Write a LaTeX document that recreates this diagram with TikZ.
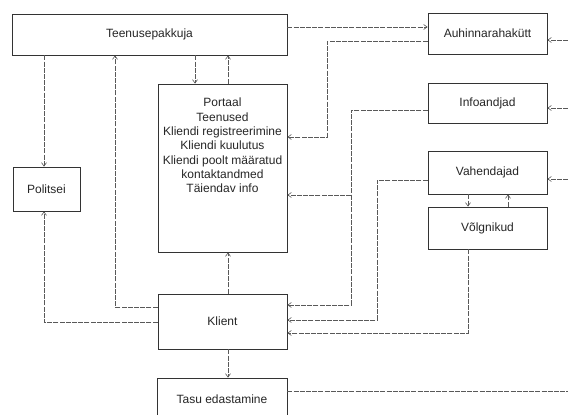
\documentclass[tikz,border=0pt]{standalone}
\usepackage{fontspec}
\setmainfont{Liberation Sans}
\usetikzlibrary{arrows.meta}
\begin{document}
\begin{tikzpicture}[x=1pt,y=-1pt,
  box/.style={draw=black!80,line width=0.8pt,rectangle,inner sep=0pt,text=black!85,font=\fontsize{12}{14.3}\selectfont},
  conn/.style={draw=black!65,line width=0.6pt,dash pattern=on 5pt off 1.2pt},
  tip/.style={-{Straight Barb[length=3.5pt,width=5pt]}}]
\clip (0,0) rectangle (568,415);
\fill[white] (0,0) rectangle (568,415);
% nodes
\node[box,minimum width=275pt,minimum height=41pt] (tp) at (149.5,34.5) {Teenusepakkuja};
\node[box,minimum width=129pt,minimum height=168pt] (por) at (222.5,168) {};
\node[text=black!85,font=\fontsize{12}{14.3}\selectfont,align=center,anchor=north,inner sep=0pt] (portxt) at (222.5,98)
  {Portaal\\Teenused\\Kliendi registreerimine\\Kliendi kuulutus\\Kliendi poolt määratud\\kontaktandmed\\Täiendav info};
\node[box,minimum width=67pt,minimum height=44pt] (pol) at (46.5,189) {Politsei};
\node[box,minimum width=129pt,minimum height=55pt] (kl) at (222.5,321.5) {Klient};
\node[box,minimum width=130pt,minimum height=42pt] (tasu) at (222,399) {Tasu edastamine};
\node[box,minimum width=119pt,minimum height=41pt] (auh) at (487.5,33.5) {Auhinnarahakütt};
\node[box,minimum width=119pt,minimum height=40pt] (info) at (487.5,103) {Infoandjad};
\node[box,minimum width=119pt,minimum height=43pt] (vah) at (487.5,172.5) {Vahendajad};
\node[box,minimum width=119pt,minimum height=42pt] (vol) at (487.5,228) {Võlgnikud};
% free ends at the right edge
\coordinate (e1) at (568,40);
\coordinate (e2) at (568,108);
\coordinate (e3) at (568,179);
\coordinate (e4) at (568,391);
% connectors
\draw[conn,tip] (tp.east |- 0,27) -- (auh.west |- 0,27);
\draw[conn,tip] (auh.west |- 0,41) -| (327,137) -- (por.east |- 0,137);
\draw[conn,tip] (e1) -- (auh.east |- e1);
\draw[conn,tip] (info.west |- 0,110) -| (351,195) -- (por.east |- 0,195);
\draw[conn,tip] (351,195) -- (351,305) -- (kl.east |- 0,305);
\draw[conn,tip] (e2) -- (info.east |- e2);
\draw[conn,tip] (vah.west |- 0,180) -| (377,320) -- (kl.east |- 0,320);
\draw[conn,tip] (e3) -- (vah.east |- e3);
\draw[conn,tip] (vah.south -| 468,0) -- (vol.north -| 468,0);
\draw[conn,tip] (vol.north -| 508,0) -- (vah.south -| 508,0);
\draw[conn,tip] (vol.south -| 468,0) |- (kl.east |- 0,333);
\draw[conn] (tasu.east |- e4) -- (e4);
\draw[conn,tip] (kl.south -| 228,0) -- (tasu.north -| 228,0);
\draw[conn,tip] (kl.north -| 228,0) -- (por.south -| 228,0);
\draw[conn,tip] (tp.south -| 195,0) -- (por.north -| 195,0);
\draw[conn,tip] (por.north -| 228,0) -- (tp.south -| 228,0);
\draw[conn,tip] (tp.south -| 44,0) -- (pol.north -| 44,0);
\draw[conn,tip] (kl.west |- 0,322) -| (pol.south -| 44,0);
\draw[conn,tip] (kl.west |- 0,307) -| (tp.south -| 115,0);
\end{tikzpicture}
\end{document}
